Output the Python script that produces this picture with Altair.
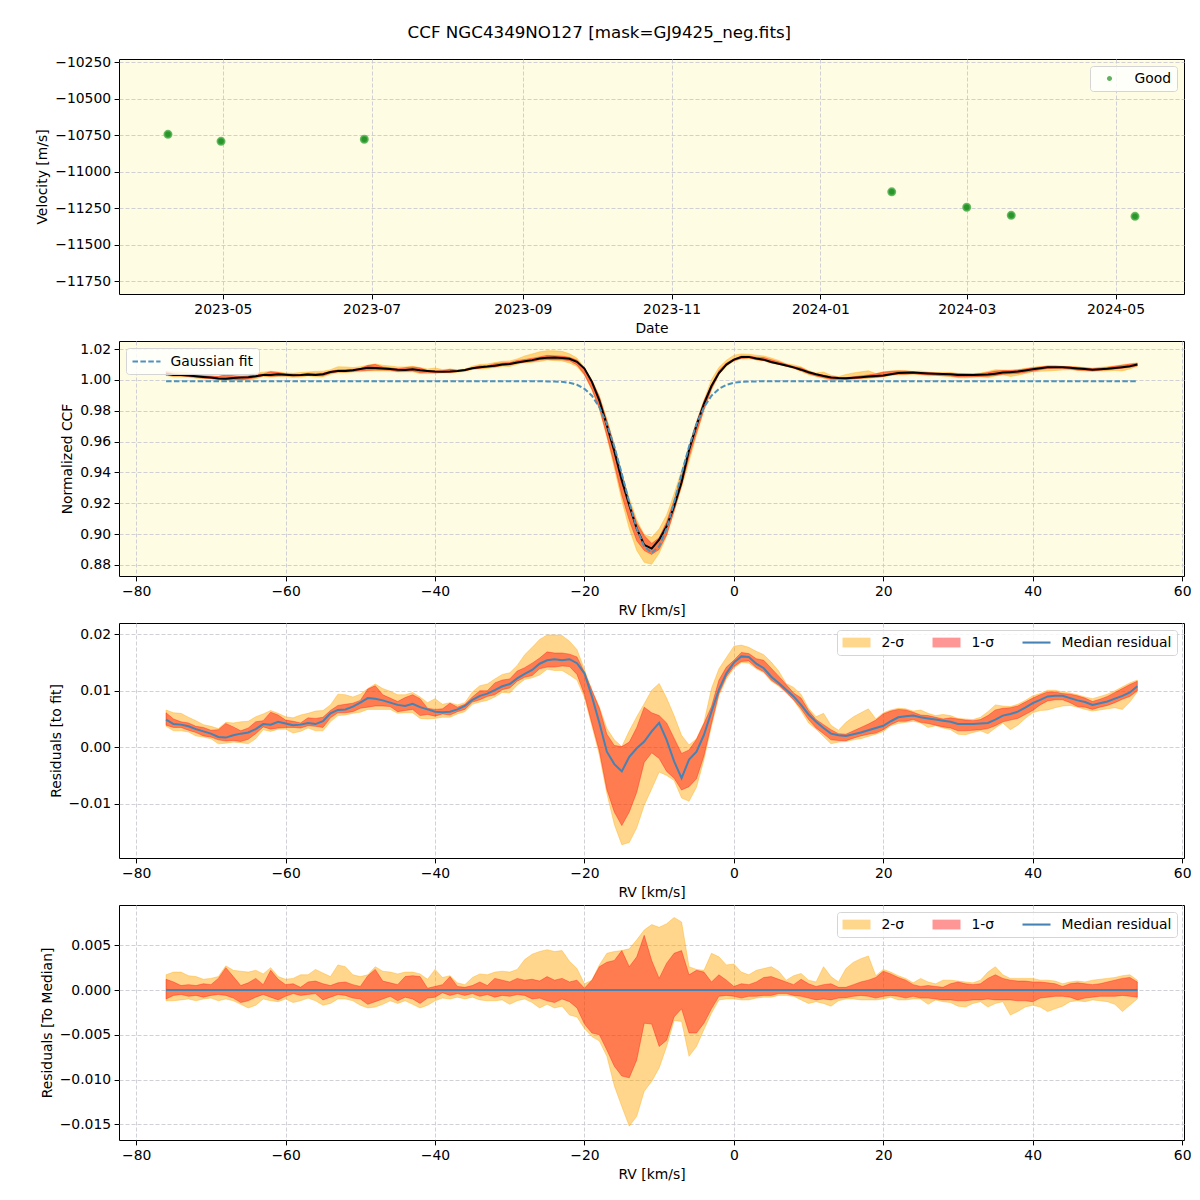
import altair as alt
import pandas as pd

TITLE = "CCF NGC4349NO127 [mask=GJ9425_neg.fits]"
FONT = "DejaVu Sans"

# ---------------- Panel 1: velocities ----------------
obs_dates = ["2023-04-08T12:00:00", "2023-04-30T06:00:00", "2023-06-28T00:00:00",
             "2024-01-30T06:00:00", "2024-03-01T00:00:00", "2024-03-19T06:00:00",
             "2024-05-09T00:00:00"]
obs_vel = [-10743, -10791, -10777, -11137, -11243, -11298, -11305]
obs_flag = ["Good", "Good", "Good", "Good", "Good", "Good", "Good"]
date_ticks = ["2023-05-01", "2023-07-01", "2023-09-01", "2023-11-01",
              "2024-01-01", "2024-03-01", "2024-05-01"]
vel_ticks = [-11750, -11500, -11250, -11000, -10750, -10500, -10250]

# ---------------- CCF profiles (RV grid in km/s) ----------------
rv = list(range(-76, 55))

gauss_fit = [
    0.9991, 0.9991, 0.9991, 0.9991, 0.9991, 0.9991, 0.9991, 0.9991, 0.9991, 0.9991,
    0.9991, 0.9991, 0.9991, 0.9991, 0.9991, 0.9991, 0.9991, 0.9991, 0.9991, 0.9991,
    0.9991, 0.9991, 0.9991, 0.9991, 0.9991, 0.9991, 0.9991, 0.9991, 0.9991, 0.9991,
    0.9991, 0.9991, 0.9991, 0.9991, 0.9991, 0.9991, 0.9991, 0.9991, 0.9991, 0.9991,
    0.9991, 0.9991, 0.9991, 0.9991, 0.9991, 0.9991, 0.9991, 0.9991, 0.9991, 0.9991,
    0.9991, 0.9990, 0.9989, 0.9987, 0.9981, 0.9968, 0.9942, 0.9897, 0.9823, 0.9713,
    0.9567, 0.9391, 0.9204, 0.9037, 0.8920, 0.8878, 0.8920, 0.9037, 0.9204, 0.9391,
    0.9567, 0.9713, 0.9823, 0.9897, 0.9942, 0.9968, 0.9981, 0.9987, 0.9989, 0.9990,
    0.9991, 0.9991, 0.9991, 0.9991, 0.9991, 0.9991, 0.9991, 0.9991, 0.9991, 0.9991,
    0.9991, 0.9991, 0.9991, 0.9991, 0.9991, 0.9991, 0.9991, 0.9991, 0.9991, 0.9991,
    0.9991, 0.9991, 0.9991, 0.9991, 0.9991, 0.9991, 0.9991, 0.9991, 0.9991, 0.9991,
    0.9991, 0.9991, 0.9991, 0.9991, 0.9991, 0.9991, 0.9991, 0.9991, 0.9991, 0.9991,
    0.9991, 0.9991, 0.9991, 0.9991, 0.9991, 0.9991, 0.9991, 0.9991, 0.9991, 0.9991,
    0.9991,
]

# median residual to fit, in units of 1e-3
resid_med_e3 = [
    4.9, 4.1, 4.0, 3.7, 3.2, 2.8, 2.4, 1.8, 1.7, 2.1,
    2.4, 2.6, 3.2, 4.1, 4.0, 4.5, 4.2, 3.9, 4.0, 4.3,
    4.1, 4.6, 6.0, 6.6, 6.7, 7.2, 7.9, 8.7, 8.6, 8.3,
    7.9, 7.5, 7.3, 7.7, 7.1, 6.7, 6.3, 6.2, 6.3, 6.7,
    7.3, 8.4, 9.1, 9.5, 10.1, 10.8, 11.2, 12.2, 13.0, 13.7,
    14.8, 15.4, 15.6, 15.4, 15.6, 14.9, 13.1, 9.0, 4.3, -0.8,
    -3.0, -4.3, -1.7, -0.2, 1.0, 2.8, 4.3, 1.3, -2.5, -5.5,
    -2.2, -0.8, 2.2, 6.3, 10.2, 13.1, 15.0, 16.1, 16.0, 14.8,
    14.0, 12.5, 11.4, 10.2, 9.0, 7.5, 5.8, 4.5, 3.4, 2.4,
    2.1, 2.0, 2.3, 2.6, 3.0, 3.4, 3.8, 4.6, 5.3, 5.5,
    5.6, 5.3, 5.1, 4.9, 4.7, 4.5, 4.1, 4.1, 4.1, 4.2,
    4.3, 4.9, 5.6, 5.9, 6.3, 7.0, 7.8, 8.4, 9.0, 9.1,
    9.1, 8.7, 8.3, 8.0, 7.5, 7.8, 8.1, 8.6, 9.1, 9.7,
    10.8,
]

# spread around the median (residuals to median), units of 1e-3
sig2_hi_e3 = [
    1.7, 2.0, 2.0, 1.6, 1.5, 1.2, 1.3, 1.5, 2.7, 2.2,
    2.1, 2.0, 2.2, 1.8, 2.5, 1.5, 1.2, 1.3, 1.7, 1.7,
    2.3, 1.9, 1.5, 2.8, 2.6, 1.7, 1.5, 1.7, 2.6, 2.1,
    2.0, 1.8, 2.0, 2.0, 1.8, 1.2, 2.3, 1.4, 1.6, 0.8,
    0.6, 1.4, 1.8, 1.7, 2.0, 2.1, 2.0, 2.3, 3.4, 4.0,
    4.3, 4.5, 4.3, 4.4, 3.2, 2.4, 0.7, 1.1, 2.8, 4.1,
    4.3, 4.4, 4.6, 5.6, 6.7, 7.3, 7.0, 7.4, 8.1, 7.6,
    2.6, 2.3, 2.2, 4.1, 3.7, 2.8, 2.9, 2.0, 1.7, 2.2,
    2.4, 2.6, 2.1, 1.1, 1.6, 1.85, 1.1, 0.9, 2.6, 1.5,
    0.9, 2.4, 3.1, 3.5, 3.8, 1.6, 2.3, 2.0, 1.6, 1.3,
    0.8, 1.3, 0.9, 0.7, 1.1, 1.1, 1.0, 0.9, 0.8, 1.1,
    2.0, 2.6, 1.7, 1.3, 1.3, 1.3, 1.3, 1.1, 1.1, 1.0,
    0.7, 0.9, 1.0, 0.9, 1.1, 1.2, 1.3, 1.4, 1.6, 1.7,
    1.1,
]
sig1_hi_e3 = [
    1.2, 0.9, 0.5, 0.6, 0.5, 0.7, 0.6, 1.3, 2.5, 1.5,
    0.5, 0.8, 1.3, 0.6, 2.2, 1.2, 0.6, 0.7, 0.3, 0.9,
    1.0, 0.7, 0.5, 0.8, 0.9, 0.6, 0.4, 1.6, 2.3, 1.0,
    0.8, 0.6, 1.5, 1.6, 1.5, 0.2, 0.4, 0.6, 1.5, 0.4,
    0.3, 0.5, 0.9, 0.5, 1.3, 1.1, 0.9, 1.3, 1.1, 1.2,
    1.0, 1.5, 1.1, 1.3, 0.9, 1.1, 0.2, 1.1, 2.6, 3.1,
    3.3, 4.4, 2.6, 3.7, 6.1, 3.3, 1.3, 3.0, 4.1, 4.4,
    1.7, 2.2, 2.0, 0.9, 1.7, 1.1, 0.4, 0.7, 0.6, 0.9,
    1.4, 1.5, 1.2, 0.9, 0.6, 1.2, 0.7, 0.4, 0.6, 0.7,
    0.3, 0.3, 0.6, 0.9, 1.1, 1.4, 2.1, 1.8, 1.4, 1.1,
    0.6, 0.4, 0.5, 0.4, 0.3, 0.7, 0.9, 0.7, 0.6, 0.7,
    1.3, 1.7, 1.3, 1.1, 1.0, 1.0, 0.9, 0.9, 0.8, 0.7,
    0.4, 0.7, 0.8, 0.7, 0.6, 0.7, 0.9, 1.1, 1.3, 1.4,
    0.9,
]
sig1_lo_e3 = [
    -1.0, -0.6, -0.5, -0.7, -0.6, -0.8, -0.6, -0.5, -0.6, -0.9,
    -1.4, -1.2, -0.8, -0.5, -0.8, -1.1, -0.7, -0.4, -0.6, -0.5,
    -0.4, -1.1, -0.8, -0.5, -0.6, -0.9, -1.0, -1.6, -1.3, -1.0,
    -0.7, -1.2, -0.8, -1.0, -1.5, -0.9, -0.8, -0.3, -0.6, -0.4,
    -0.6, -0.4, -0.7, -0.5, -0.8, -0.6, -0.7, -0.5, -0.6, -1.0,
    -0.9, -1.2, -1.4, -1.0, -1.3, -2.0, -3.8, -4.8, -5.0, -6.7,
    -8.5, -9.6, -9.8, -7.8, -3.7, -3.8, -6.3, -5.6, -3.0, -2.1,
    -4.8, -4.8, -3.7, -2.1, -0.7, -0.6, -0.7, -0.9, -0.7, -0.7,
    -0.6, -0.6, -0.4, -0.4, -0.6, -0.7, -0.9, -1.1, -1.0, -1.1,
    -0.9, -0.85, -0.7, -0.6, -0.7, -0.9, -0.7, -0.6, -0.7, -0.9,
    -0.7, -0.9, -0.9, -1.0, -1.1, -1.1, -1.2, -1.2, -1.1, -1.1,
    -1.0, -1.1, -1.1, -1.1, -1.2, -1.2, -1.3, -0.9, -0.8, -0.7,
    -0.7, -0.8, -1.1, -0.9, -0.8, -0.7, -0.7, -0.7, -0.6, -0.7,
    -0.8,
]
sig2_lo_e3 = [
    -1.2, -1.2, -1.1, -1.0, -1.2, -1.0, -0.9, -1.2, -1.0, -1.2,
    -1.6, -2.0, -1.7, -1.0, -1.2, -1.3, -1.0, -1.4, -1.2, -0.9,
    -1.2, -1.7, -1.5, -1.0, -1.0, -1.2, -1.7, -2.0, -1.9, -1.6,
    -1.2, -1.5, -1.2, -1.6, -2.0, -1.7, -1.2, -0.9, -1.0, -0.8,
    -1.0, -0.8, -1.1, -1.2, -1.2, -1.1, -1.6, -1.2, -1.0, -1.4,
    -2.0, -1.6, -2.0, -1.8, -2.8, -3.0, -4.3, -5.2, -5.7, -7.4,
    -10.7, -13.0, -15.2, -14.1, -11.3, -10.2, -8.7, -6.3, -3.4, -3.5,
    -7.4, -6.3, -4.4, -2.6, -1.1, -1.0, -1.0, -1.1, -1.1, -0.9,
    -0.8, -0.8, -0.6, -0.6, -0.7, -1.1, -1.5, -1.3, -1.5, -1.8,
    -1.2, -1.0, -1.0, -1.1, -1.1, -1.1, -1.0, -0.8, -1.1, -1.1,
    -1.0, -1.0, -1.6, -1.1, -1.3, -1.4, -1.8, -1.9, -1.5, -1.3,
    -1.9, -1.5, -1.3, -2.8, -2.4, -1.9, -1.7, -1.9, -2.4, -2.1,
    -1.8, -1.3, -1.2, -1.3, -1.1, -1.2, -1.3, -1.6, -2.4, -1.7,
    -1.0,
]

rv_ticks = [-80, -60, -40, -20, 0, 20, 40, 60]
ccf_ticks = [0.88, 0.90, 0.92, 0.94, 0.96, 0.98, 1.00, 1.02]
res_ticks = [-0.01, 0.0, 0.01, 0.02]
med_ticks = [-0.015, -0.010, -0.005, 0.0, 0.005]
band_labels = ["2-σ", "1-σ", "Median residual"]
fit_label = "Gaussian fit"

for arr in (gauss_fit, resid_med_e3, sig2_hi_e3, sig1_hi_e3, sig1_lo_e3, sig2_lo_e3):
    assert len(arr) == len(rv), len(arr)

E3 = 1e-3
df = pd.DataFrame({"rv": rv, "fit": gauss_fit})
df["resid"] = [v * E3 for v in resid_med_e3]
df["ccf"] = df["fit"] + df["resid"]
for name, arr in (("s2hi", sig2_hi_e3), ("s1hi", sig1_hi_e3),
                  ("s1lo", sig1_lo_e3), ("s2lo", sig2_lo_e3)):
    df[name] = [v * E3 for v in arr]
    df["ccf_" + name] = df["ccf"] + df[name]
    df["res_" + name] = df["resid"] + df[name]
df["zero"] = 0.0
df["fit_name"] = fit_label

legend_df = pd.DataFrame({"band": band_labels})

# ---------------- styles ----------------
W, H = 1065, 235
ORANGE = "#ffa500"
RED = "#ff0000"
ORANGE_SWATCH = "#ffd78c"
RED_SWATCH = "#ff9696"
BLUE_MED = "#4682b4"
BLUE_FIT = "#4c92bd"

# custom legend symbol paths (unit = half of sqrt(symbolSize))
RECT = "M-1,-0.7H3V0.7H-1Z"
THIN = "M-1,-0.15H3V0.15H-1Z"
LINE = "M-1,0H3"
DOT = "M0.64,0A0.36,0.36,0,1,0,1.36,0A0.36,0.36,0,1,0,0.64,0Z"

x_rv_scale = alt.Scale(domain=[-82.3, 60.25], nice=False, zero=False)
x_rv_axis = alt.Axis(title="RV [km/s]", values=rv_ticks, format="d")


def X():
    return alt.X("rv:Q", scale=x_rv_scale, axis=x_rv_axis)


def dt(s):
    y, m, d = (int(p) for p in s.split("-"))
    return alt.DateTime(year=y, month=m, date=d)


# ---------------- Panel 1 ----------------
vel_df = pd.DataFrame({"date": obs_dates, "vel": obs_vel, "flag": obs_flag})
p1 = alt.Chart(vel_df).mark_point(
    filled=True, size=52, fillOpacity=0.95, stroke="#52b152", strokeWidth=1.8, strokeOpacity=0.85
).encode(
    x=alt.X("date:T",
            scale=alt.Scale(domain=[alt.DateTime(year=2023, month=3, date=19, hours=10),
                                    alt.DateTime(year=2024, month=5, date=29, hours=2)]),
            axis=alt.Axis(title="Date", values=[dt(s) for s in date_ticks], format="%Y-%m")),
    y=alt.Y("vel:Q", scale=alt.Scale(domain=[-11837, -10227], nice=False, zero=False),
            axis=alt.Axis(title="Velocity [m/s]", values=vel_ticks, format="d")),
    color=alt.Color("flag:N", scale=alt.Scale(domain=["Good"], range=["#1f8f1f"]),
                    legend=alt.Legend(title=None, orient="top-right", offset=7, symbolSize=196,
                                      symbolType=DOT, symbolOpacity=0.7, symbolStrokeWidth=0,
                                      labelOffset=25, padding=5.5)),
).properties(width=W, height=H)

# ---------------- Panel 2 ----------------
y_ccf_scale = alt.Scale(domain=[0.8728, 1.0252], nice=False, zero=False)
y_ccf_axis = alt.Axis(title="Normalized CCF", values=ccf_ticks, format=".2f")

base = alt.Chart(df)
c2 = base.mark_area(color=ORANGE, fillOpacity=0.45, stroke=ORANGE, strokeOpacity=0.45, strokeWidth=0.8).encode(
    x=X(), y=alt.Y("ccf_s2lo:Q", scale=y_ccf_scale, axis=y_ccf_axis), y2="ccf_s2hi:Q")
c1 = base.mark_area(color=RED, fillOpacity=0.42, stroke=RED, strokeOpacity=0.42, strokeWidth=0.8).encode(
    x=X(), y=alt.Y("ccf_s1lo:Q", scale=y_ccf_scale, axis=y_ccf_axis), y2="ccf_s1hi:Q")
cmed = base.mark_line(color="black", strokeWidth=2).encode(
    x=X(), y=alt.Y("ccf:Q", scale=y_ccf_scale, axis=y_ccf_axis))
cfit = base.mark_line(strokeWidth=2, strokeDash=[5.5, 2.4]).encode(
    x=X(), y=alt.Y("fit:Q", scale=y_ccf_scale, axis=y_ccf_axis),
    color=alt.Color("fit_name:N", scale=alt.Scale(domain=[fit_label], range=[BLUE_FIT]),
                    legend=alt.Legend(title=None, orient="top-left", offset=7, symbolSize=196,
                                      symbolType=LINE, symbolDash=[5.5, 2.4], symbolStrokeWidth=2,
                                      symbolOpacity=1, labelOffset=23, padding=5.5)))
p2 = alt.layer(c2, c1, cmed, cfit).properties(width=W, height=H)


# ---------------- Panels 3 & 4 ----------------
def band_legend():
    return alt.Legend(title=None, orient="top-right", direction="horizontal", offset=7,
                      symbolSize=196, symbolOpacity=1, symbolStrokeWidth=0,
                      labelOffset=25, columnPadding=28, padding=5.5)


def residual_panel(lo2, hi2, lo1, hi1, med, ydomain, yticks, yfmt, ytitle):
    ys = alt.Scale(domain=ydomain, nice=False, zero=False)
    ya = alt.Axis(title=ytitle, values=yticks, format=yfmt)
    a2 = base.mark_area(color=ORANGE, fillOpacity=0.45, stroke=ORANGE, strokeOpacity=0.45, strokeWidth=0.8).encode(
        x=X(), y=alt.Y(lo2 + ":Q", scale=ys, axis=ya), y2=hi2 + ":Q")
    a1 = base.mark_area(color=RED, fillOpacity=0.42, stroke=RED, strokeOpacity=0.42, strokeWidth=0.8).encode(
        x=X(), y=alt.Y(lo1 + ":Q", scale=ys, axis=ya), y2=hi1 + ":Q")
    ln = base.mark_line(color=BLUE_MED, strokeWidth=2).encode(
        x=X(), y=alt.Y(med + ":Q", scale=ys, axis=ya))
    # legend key entries only (the carrier marks are fully transparent)
    key = alt.Chart(legend_df).mark_point(filled=True, opacity=0).encode(
        color=alt.Color("band:N", scale=alt.Scale(domain=band_labels,
                                                  range=[ORANGE_SWATCH, RED_SWATCH, BLUE_MED]),
                        legend=band_legend()),
        shape=alt.Shape("band:N", scale=alt.Scale(domain=band_labels, range=[RECT, RECT, THIN]),
                        legend=band_legend()),
    )
    return alt.layer(a2, a1, ln, key).properties(width=W, height=H)


p3 = residual_panel("res_s2lo", "res_s2hi", "res_s1lo", "res_s1hi", "resid",
                    [-0.01965, 0.02202], res_ticks, ".2f", "Residuals [to fit]")
p4 = residual_panel("s2lo", "s2hi", "s1lo", "s1hi", "zero",
                    [-0.01674, 0.00949], med_ticks, ".3f", "Residuals [To Median]")

chart = alt.vconcat(
    p1, p2, p3, p4, spacing=47, bounds="flush",
    title=alt.TitleParams(text=TITLE, anchor="middle", fontSize=16.7, font=FONT,
                          fontWeight="normal", color="black", offset=13, dx=-14),
).resolve_scale(
    color="independent", shape="independent", x="independent", y="independent"
).resolve_legend(
    color="independent", shape="independent"
).properties(
    padding={"left": 27, "top": 17, "right": 0, "bottom": 0}
).configure(
    font=FONT
).configure_view(
    fill="#fefce2", stroke="black", strokeWidth=1
).configure_axis(
    grid=True, gridColor="#cbcbd2", gridDash=[4, 2], gridWidth=0.9,
    domain=False, tickColor="black", tickSize=4.9, tickWidth=1,
    labelPadding=3.5, titlePadding=5, labelFont=FONT, titleFont=FONT,
    labelFontSize=13.9, titleFontSize=13.9, titleFontWeight="normal",
    labelColor="black", titleColor="black", labelFlush=False, labelOverlap=False,
).configure_legend(
    labelFont=FONT, labelFontSize=13.9, labelColor="black",
    fillColor="rgba(255,255,255,0.82)", strokeColor="#d5d5d5", cornerRadius=3,
)

chart.save("out.html", embed_options={"renderer": "svg", "actions": False})
